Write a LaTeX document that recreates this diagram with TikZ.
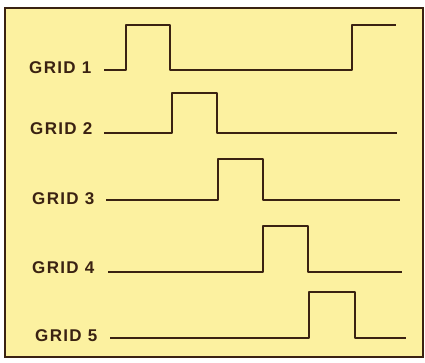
\documentclass[tikz,border=0pt]{standalone}
\usepackage{fontspec}
\setmainfont{Liberation Sans}
\definecolor{paper}{RGB}{252,241,160}
\definecolor{ink}{RGB}{58,34,18}
\tikzset{
  wave/.style={draw=ink, line width=2.2pt, line join=round},
  gridlabel/.style={anchor=base west, inner sep=0pt, text=ink,
    font=\fontsize{17}{17}\selectfont\bfseries\addfontfeature{LetterSpace=8}}
}
\begin{document}
\begin{tikzpicture}[x=1pt,y=-1pt]
\useasboundingbox (0,0) rectangle (425,362);
\fill[white] (0,0) rectangle (425,362);
\path[fill=paper, draw=ink, line width=2pt] (5,8) rectangle (423,357);
% labels
\node[gridlabel] (l1) at (29,73) {GRID 1};
\node[gridlabel] (l2) at (30,134) {GRID 2};
\node[gridlabel] (l3) at (32,204) {GRID 3};
\node[gridlabel] (l4) at (32,273) {GRID 4};
\node[gridlabel] (l5) at (35,341) {GRID 5};
% waveforms
\coordinate (s1) at (104,70);
\coordinate (s2) at (104,133);
\coordinate (s3) at (106,200);
\coordinate (s4) at (108,272);
\coordinate (s5) at (110,338);
\draw[wave] (s1) -- (126,70) -- (126,25) -- (170,25) -- (170,70) -- (352,70) -- (352,25) -- (396,25);
\draw[wave] (s2) -- (172,133) -- (172,93) -- (217,93) -- (217,133) -- (397,133);
\draw[wave] (s3) -- (218,200) -- (218,159) -- (263,159) -- (263,200) -- (400,200);
\draw[wave] (s4) -- (263,272) -- (263,226) -- (308,226) -- (308,272) -- (402,272);
\draw[wave] (s5) -- (309,338) -- (309,292) -- (355,292) -- (355,338) -- (406,338);
\end{tikzpicture}
\end{document}
